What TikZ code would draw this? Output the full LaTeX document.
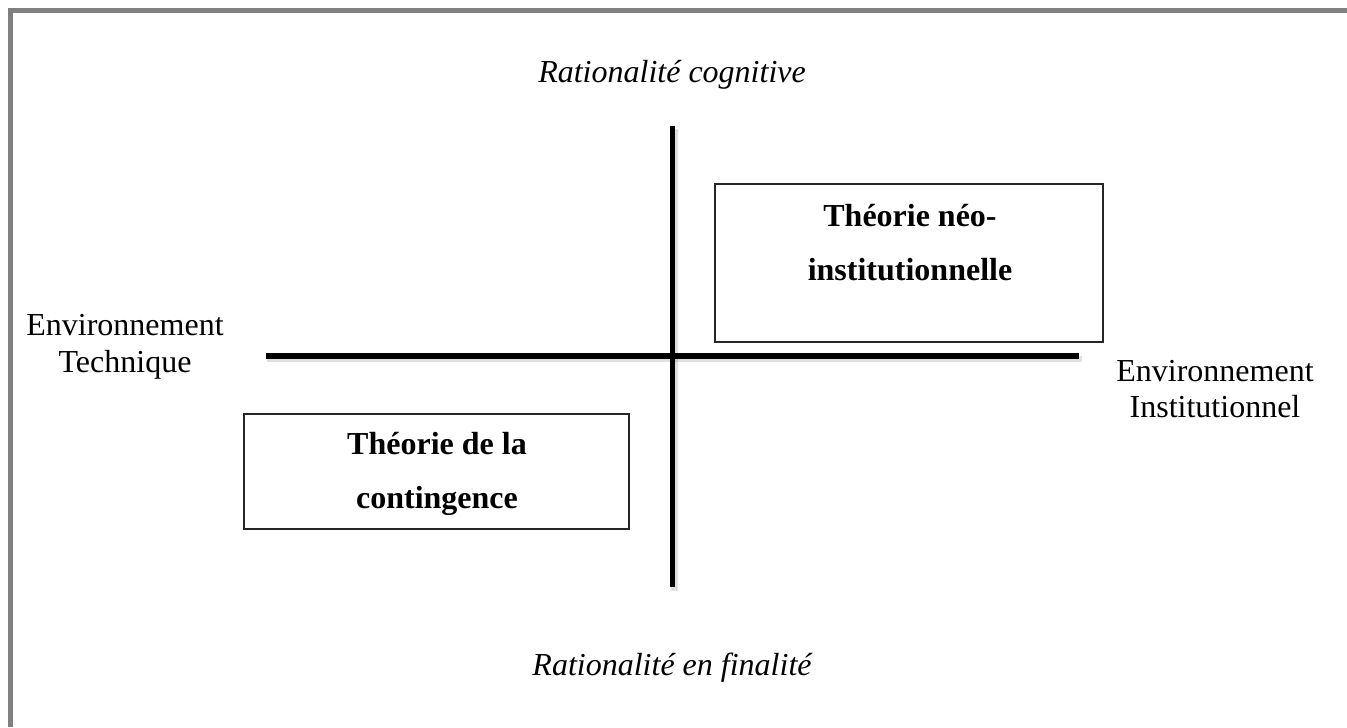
\documentclass[tikz,border=0pt]{standalone}
\usepackage{fontspec}
\setmainfont{Liberation Serif}
\tikzset{
  axis/.style={line width=2.8pt, black, line cap=butt},
  axisshadow/.style={line width=3.4pt, black, opacity=0.12},
  theorybox/.style={draw=black!85, line width=0.8pt, fill=white, inner sep=0pt},
  theorytext/.style={font=\fontsize{16}{27}\selectfont\bfseries, align=center, inner sep=0pt},
  sidelabel/.style={font=\fontsize{16}{18.4}\selectfont, align=center, inner sep=0pt},
  axislabel/.style={font=\fontsize{16}{18.4}\selectfont\itshape, inner sep=0pt},
  frame/.style={draw=black!50, line width=2.5pt}
}
\begin{document}
\begin{tikzpicture}[x=0.5pt,y=-0.5pt]
\useasboundingbox (0,0) rectangle (1347,727);
% frame
\coordinate (fbl) at (10.8,727);
\coordinate (ftl) at (10.8,10.8);
\coordinate (ftr) at (1347,10.8);
\draw[frame, line join=miter] (fbl) -- (ftl) -- (ftr);
% axes
\coordinate (vt) at (672.5,126);
\coordinate (vb) at (672.5,587);
\coordinate (hl) at (266,356);
\coordinate (hr) at (1079,356);
\draw[axisshadow] ([shift={(2,3)}]vt) -- ([shift={(2,4)}]vb);
\draw[axisshadow] ([shift={(1,3)}]hl) -- ([shift={(3,3)}]hr);
\draw[axis] (vt) -- (vb);
\draw[axis] (hl) -- (hr);
% boxes
\node[theorybox, minimum width=194pt, minimum height=79pt] (neo) at (909,263) {};
\node[theorybox, minimum width=192.5pt, minimum height=57.5pt] (cont) at (436.5,471.5) {};
\node[theorytext] (neotxt) at (910,243) {Théorie néo-\\institutionnelle};
\node[theorytext] (conttxt) at (437,474) {Théorie de la\\contingence};
% labels
\node[axislabel] (top) at (672,75) {Rationalité cognitive};
\node[axislabel] (bot) at (672,668) {Rationalité en finalité};
\node[sidelabel] (left) at (125,347) {Environnement\\Technique};
\node[sidelabel] (right) at (1215,389) {Environnement\\Institutionnel};
\end{tikzpicture}
\end{document}
